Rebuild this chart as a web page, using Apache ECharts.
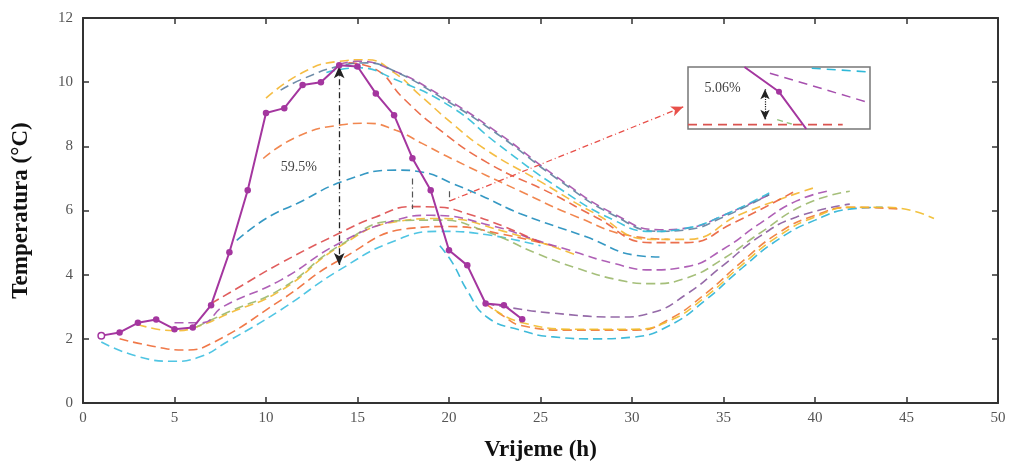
<!DOCTYPE html>
<html>
<head>
<meta charset="utf-8">
<script src="https://cdn.jsdelivr.net/npm/echarts@6/dist/echarts.min.js"></script>
<style>
html,body{margin:0;padding:0;background:#fff;}
#c{width:1015px;height:467px;}
</style>
</head>
<body>
<div id="c"></div>
<script>
// ---------- data ----------
var xTicks = [0, 5, 10, 15, 20, 25, 30, 35, 40, 45, 50];
var yTicks = [0, 2, 4, 6, 8, 10, 12];
var hours = [1,2,3,4,5,6,7,8,9,10,11,12,13,14,15,16,17,18,19,20,21,22,23,24];
var measured = [2.1,2.2,2.5,2.6,2.3,2.35,3.05,4.7,6.63,9.04,9.19,9.91,10.0,10.53,10.49,9.65,8.97,7.63,6.63,4.76,4.29,3.1,3.05,2.61];

// forecast curves [hour, temperature]
var fcCyanLow   = [[1,1.9],[3,1.45],[5,1.3],[6.2,1.4],[8,1.95],[10.8,2.9],[14,4.14],[17.1,5.07],[19.5,5.35],[22,5.25],[25,4.9]];
var fcOrangeLow = [[2,2.0],[4,1.75],[5.5,1.65],[7,1.85],[10.8,3.2],[14,4.45],[18,5.45],[20,5.5],[23,5.25],[26,4.85]];
var fcYellowLow = [[3,2.45],[5,2.25],[6.2,2.37],[8,2.8],[10.8,3.5],[14,4.87],[17.1,5.65],[19.5,5.75],[23,5.35],[27,4.6]];
var fcGreen     = [[6.2,2.37],[8,2.85],[10.8,3.55],[14,4.9],[17.1,5.68],[19.5,5.7],[22,5.35],[24.8,4.66],[27,4.2],[29.3,3.83],[31,3.72],[33,3.9],[35,4.5],[37,5.3],[39.5,6.2],[41.9,6.6]];
var fcPurple    = [[5,2.5],[6.5,2.5],[7.65,3.0],[10.8,3.83],[14,4.98],[17.1,5.7],[19,5.85],[22.5,5.5],[24.8,5.07],[26.6,4.76],[29,4.35],[31,4.15],[33,4.25],[35,4.8],[37,5.6],[39,6.3],[40.9,6.63]];
var fcRed       = [[7,3.1],[8.5,3.6],[10.8,4.36],[14,5.29],[16,5.8],[18,6.12],[19.5,6.1],[21,5.9],[23,5.5],[25,5.0]];
var fcBlue      = [[8.4,5.07],[10,5.75],[11.7,6.22],[14.4,6.95],[17.1,7.26],[18.5,7.2],[20.2,6.84],[22,6.4],[23.9,5.9],[27.5,5.18],[30.25,4.6],[31.5,4.55]];
var fcOrangeMid = [[9.85,7.62],[11.7,8.3],[14,8.66],[15.5,8.72],[17.1,8.5],[18.5,8.1],[20.2,7.6],[23.9,6.6],[27,5.8],[30,5.2],[32,5.1]];
var fcYellowTop = [[10,9.5],[12,10.3],[14,10.65],[15.5,10.7],[17,10.3],[18.4,9.6],[20.2,8.7],[22,7.9],[25,6.9],[28,5.9],[31,5.1],[33,5.1],[36,5.9],[39.9,6.7]];
var fcOrangeTop = [[14.5,10.6],[16,10.4],[17.5,9.5],[19.3,8.6],[22.07,7.5],[25.7,6.5],[28,5.8],[31,5.0],[33,5.0],[35.5,5.6],[38.8,6.57]];
var fcPurpleTop = [[14,10.55],[15,10.65],[17,10.35],[19.5,9.6],[22.6,8.45],[26,7.0],[29,5.9],[31.5,5.4],[33,5.45],[35,5.85],[37.5,6.5]];
var fcSlateTop  = [[10.8,9.75],[12,10.1],[14,10.5],[15.5,10.6],[17,10.35],[19.5,9.55],[22.6,8.4],[26,6.95],[29,5.85],[31.5,5.35],[33,5.4],[35,5.8],[37.5,6.5]];
var fcCyanTop   = [[13.3,10.3],[15,10.45],[17,10.1],[20.2,9.2],[22.6,8.1],[26,6.7],[29,5.7],[31,5.35],[33,5.45],[35,5.85],[37.5,6.55]];
var fcCyanBot   = [[19.5,4.9],[20.2,4.36],[21,3.5],[22.07,2.68],[23.9,2.27],[25.7,2.06],[28,2.0],[30,2.05],[32,2.4],[34,3.2],[36,4.2],[38,5.1],[40,5.7],[42,6.05],[43.7,6.1]];
var fcOrangeBot = [[22,3.1],[23,2.7],[23.9,2.42],[26.6,2.27],[30.25,2.27],[32,2.6],[34,3.4],[36,4.4],[38,5.3],[40,5.85],[42,6.1],[44.5,6.05]];
var fcYellowBot = [[22.5,2.9],[24,2.5],[27,2.3],[30,2.3],[32,2.55],[34,3.3],[36,4.3],[38,5.2],[40,5.8],[42,6.1],[44,6.1],[46.5,5.75]];
var fcPurpleBot = [[22,3.1],[23,3.0],[25.7,2.8],[29.3,2.68],[31,2.8],[33,3.4],[35,4.3],[37,5.2],[39,5.8],[41.9,6.2]];

// annotations
var bigArrow = [[14,10.5],[14,4.3]];
var bigLabel = [11.8,7.35];
var bigText = '59.5%';
var smallBracket1 = [[18,7.0],[18,6.05]];
var smallBracket2 = [[20,6.6],[20,6.25]];
var redArrow = [[20.05,6.3],[32.8,9.23]];

// inset (zoomed view, relative 0-100 units)
var insetMeasured = [[31,100],[50,60],[65,0]];
var insetPurpleDash = [[45,90],[100,42]];
var insetCyanDash = [[68,98],[100,92]];
var insetRedDash = [[0,7],[85,7]];
var insetGreenDash = [[49,15],[57,8]];
var insetArrow = [[42.3,64],[42.3,15]];
var insetLabel = [19,66];
var insetText = '5.06%';

// ---------- chart ----------
var SERIF = '"Liberation Serif","DejaVu Serif",serif';
var chart = echarts.init(document.getElementById('c'), null, {renderer:'canvas'});

function dash(name, data, color){
  return {
    name:name, type:'line', data:data, smooth:0.5, showSymbol:false, symbol:'none',
    xAxisIndex:0, yAxisIndex:0, z:2, silent:true,
    lineStyle:{color:color, width:1.6, type:[9,5], opacity:0.9}
  };
}

var measuredData = hours.map(function(h,i){
  var d = {value:[h, measured[i]]};
  if(i===0){ d.itemStyle = {color:'#fff', borderColor:'#a4369f', borderWidth:1.5}; }
  return d;
});

var series = [
  dash('c1', fcCyanLow, '#3dbfe0'),
  dash('c2', fcOrangeLow, '#ee6a35'),
  dash('c3', fcYellowLow, '#f3b82e'),
  dash('c4', fcGreen, '#9bb86b'),
  dash('c5', fcPurple, '#a64fae'),
  dash('c6', fcRed, '#dd4b4b'),
  dash('c7', fcBlue, '#1f8dbd'),
  dash('c8', fcOrangeMid, '#ef7a3d'),
  dash('c9', fcYellowTop, '#f4b630'),
  dash('c10', fcOrangeTop, '#e95f3a'),
  dash('c11', fcPurpleTop, '#a44ea8'),
  dash('c12', fcSlateTop, '#5f7f9f'),
  dash('c13', fcCyanTop, '#2fbcd8'),
  dash('c14', fcCyanBot, '#2ab2d6'),
  dash('c15', fcOrangeBot, '#ef7a33'),
  dash('c16', fcYellowBot, '#f1bb2a'),
  dash('c17', fcPurpleBot, '#8a5a9e'),
  {
    name:'measured', type:'line', data:measuredData, xAxisIndex:0, yAxisIndex:0, z:5,
    symbol:'circle', symbolSize:6.5, showSymbol:true,
    lineStyle:{color:'#a4369f', width:2},
    itemStyle:{color:'#a4369f'},
    markLine:{
      silent:true, animation:false, label:{show:false},
      data:[
        [{coord:bigArrow[0], symbol:'arrow', symbolSize:[8,12], lineStyle:{color:'#222', width:1.3, type:[6,3,1,3]}},
         {coord:bigArrow[1], symbol:'arrow', symbolSize:[8,12]}],
        [{coord:smallBracket1[0], symbol:'none', lineStyle:{color:'#555', width:1.2, type:[6,3,1,3]}},
         {coord:smallBracket1[1], symbol:'none'}],
        [{coord:smallBracket2[0], symbol:'none', lineStyle:{color:'#555', width:1.2, type:[6,3,1,3]}},
         {coord:smallBracket2[1], symbol:'none'}],
        [{coord:redArrow[0], symbol:'none', lineStyle:{color:'#e8504a', width:1.3, type:[6,3,1,3]}},
         {coord:redArrow[1], symbol:'arrow', symbolSize:[8,12]}]
      ]
    },
    markPoint:{
      silent:true, animation:false,
      data:[{coord:bigLabel, symbol:'circle', symbolSize:0,
        label:{show:true, formatter:bigText, position:'inside', color:'#444', fontFamily:SERIF, fontSize:14}}]
    }
  },
  // inset
  {type:'line', data:insetRedDash, xAxisIndex:2, yAxisIndex:2, showSymbol:false, silent:true, z:12,
   lineStyle:{color:'#d9534f', width:1.6, type:[9,6]}},
  {type:'line', data:insetGreenDash, xAxisIndex:2, yAxisIndex:2, showSymbol:false, silent:true, z:12,
   lineStyle:{color:'#8fc27a', width:1.4, type:[6,4]}},
  {type:'line', data:insetCyanDash, xAxisIndex:2, yAxisIndex:2, showSymbol:false, silent:true, z:12,
   lineStyle:{color:'#30b8d8', width:1.6, type:[9,6]}},
  {type:'line', data:insetPurpleDash, xAxisIndex:2, yAxisIndex:2, showSymbol:false, silent:true, z:12,
   lineStyle:{color:'#a64fae', width:1.5, type:[9,6]}},
  {type:'line', data:insetMeasured.map(function(p,i){ return {value:p, symbol: i===1?'circle':'none'}; }),
   xAxisIndex:2, yAxisIndex:2, symbolSize:6, showSymbol:true, silent:true, z:13,
   lineStyle:{color:'#a4369f', width:2}, itemStyle:{color:'#a4369f'},
   markLine:{
     silent:true, animation:false, label:{show:false},
     data:[[{coord:insetArrow[0], symbol:'arrow', symbolSize:[7,10], lineStyle:{color:'#222', width:1.2, type:'dotted'}},
            {coord:insetArrow[1], symbol:'arrow', symbolSize:[7,10]}]]
   },
   markPoint:{
     silent:true, animation:false,
     data:[{coord:insetLabel, symbol:'circle', symbolSize:0,
       label:{show:true, formatter:insetText, position:'inside', color:'#444', fontFamily:SERIF, fontSize:14}}]
   }
  }
];

var axisLineStyle = {color:'#333', width:2};
var option = {
  backgroundColor:'#fff',
  animation:false,
  grid:[
    {left:83, right:17, top:18, bottom:64, show:false},
    {left:688, top:67, width:182, height:62, show:true, borderColor:'#777', borderWidth:1.5, backgroundColor:'transparent'}
  ],
  xAxis:[
    {type:'value', gridIndex:0, min:0, max:50, interval:5, position:'bottom',
     name:'Vrijeme (h)', nameLocation:'middle', nameGap:36,
     nameTextStyle:{fontFamily:SERIF, fontWeight:'bold', fontSize:23, color:'#111'},
     axisLine:{show:true, onZero:false, lineStyle:axisLineStyle},
     axisTick:{show:true, inside:true, length:6, lineStyle:{color:'#333', width:1.5}},
     axisLabel:{color:'#555', fontFamily:SERIF, fontSize:15, margin:8},
     splitLine:{show:false}},
    {type:'value', gridIndex:0, min:0, max:50, interval:5, position:'top',
     axisLine:{show:true, onZero:false, lineStyle:axisLineStyle},
     axisTick:{show:true, inside:true, length:6, lineStyle:{color:'#333', width:1.5}},
     axisLabel:{show:false}, splitLine:{show:false}},
    {type:'value', gridIndex:1, min:0, max:100, show:false}
  ],
  yAxis:[
    {type:'value', gridIndex:0, min:0, max:12, interval:2, position:'left',
     name:'Temperatura (°C)', nameLocation:'middle', nameGap:50,
     nameTextStyle:{fontFamily:SERIF, fontWeight:'bold', fontSize:23, color:'#111'},
     axisLine:{show:true, onZero:false, lineStyle:axisLineStyle},
     axisTick:{show:true, inside:true, length:6, lineStyle:{color:'#333', width:1.5}},
     axisLabel:{color:'#555', fontFamily:SERIF, fontSize:15, margin:10},
     splitLine:{show:false}},
    {type:'value', gridIndex:0, min:0, max:12, interval:2, position:'right',
     axisLine:{show:true, onZero:false, lineStyle:axisLineStyle},
     axisTick:{show:true, inside:true, length:6, lineStyle:{color:'#333', width:1.5}},
     axisLabel:{show:false}, splitLine:{show:false}},
    {type:'value', gridIndex:1, min:0, max:100, show:false}
  ],
  series:series
};
chart.setOption(option);
</script>
</body>
</html>
